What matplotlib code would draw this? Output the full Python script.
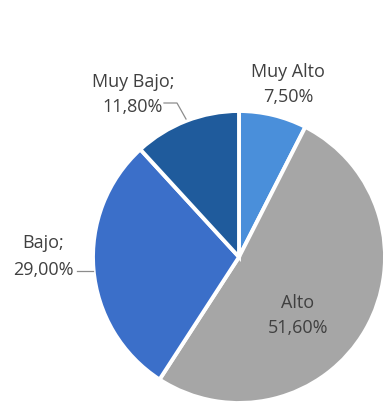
import matplotlib
matplotlib.use("Agg")
import matplotlib.pyplot as plt

categories = ["Muy Alto", "Alto", "Bajo", "Muy Bajo"]
values = [7.5, 51.6, 29.0, 11.8]
colors = ["#4a8fda", "#a6a6a6", "#3b6fc9", "#1f5b9c"]

W, H = 386, 405
fig = plt.figure(figsize=(W / 100, H / 100), dpi=100)
ax = fig.add_axes([0, 0, 1, 1])

cx, cy, r = 239, H - 257, 146
ax.pie(values, colors=colors, startangle=90, counterclock=False,
       center=(cx, cy), radius=r, frame=True,
       wedgeprops=dict(edgecolor="white", linewidth=2.8))
ax.set_xlim(0, W)
ax.set_ylim(0, H)
ax.set_aspect("equal")
ax.axis("off")


def fmt(v):
    return f"{v:.2f}%".replace(".", ",")


txt = dict(fontsize=13, color="#404040", family="Open Sans",
           ha="center", va="baseline")


def label(x, y1, y2, line1, line2):
    ax.text(x, H - y1, line1, **txt)
    ax.text(x, H - y2, line2, **txt)


leader = dict(color="#8c8c8c", lw=0.9)

# Muy Alto, above its slice
label(288, 77, 102, categories[0], fmt(values[0]))
# Alto, inside its slice
label(298, 308, 333, categories[1], fmt(values[1]))
# Bajo, left of the pie with a leader line
label(43, 248, 275, categories[2] + ";", fmt(values[2]))
ax.plot([77, 93], [H - 271, H - 271], **leader)
# Muy Bajo, upper left with a bent leader line
label(133, 87, 112, categories[3] + ";", fmt(values[3]))
ax.plot([164, 177, 186], [H - 103, H - 103, H - 119], **leader)

fig.savefig("out.png", dpi=100, facecolor="white")
